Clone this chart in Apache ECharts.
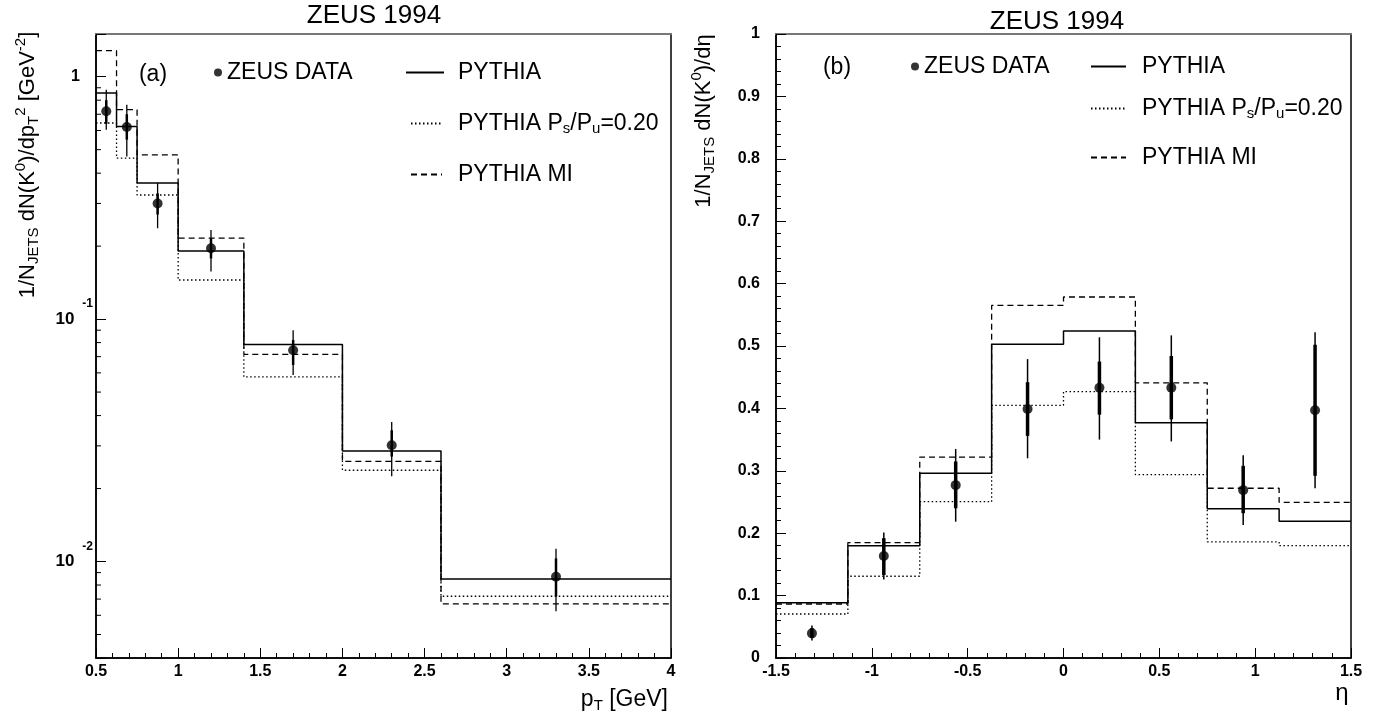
<!DOCTYPE html>
<html>
<head>
<meta charset="utf-8">
<script src="https://cdn.jsdelivr.net/npm/echarts@6/dist/echarts.min.js"></script>
<style>
  html, body { margin: 0; padding: 0; background: #fff; }
  #chart { width: 1382px; height: 719px; }
</style>
</head>
<body>
<div id="chart"></div>
<script>
// (a) pT spectrum, log scale
var ptEdges = [0.5, 0.625, 0.75, 1.0, 1.4, 2.0, 2.6, 4.0];
var ptPythia = [0.856, 0.623, 0.364, 0.191, 0.0786, 0.0286, 0.00848];
var ptPythiaPs = [0.644, 0.461, 0.325, 0.145, 0.0578, 0.0238, 0.00719];
var ptPythiaMI = [1.28, 0.731, 0.476, 0.216, 0.0715, 0.0259, 0.00669];
var ptDataX = [0.5625, 0.6875, 0.875, 1.2, 1.7, 2.3, 3.3];
var ptDataY = [0.72, 0.62, 0.30, 0.196, 0.0744, 0.0302, 0.00866];
var ptErrLo = [0.604, 0.469, 0.237, 0.157, 0.0588, 0.0225, 0.00623];
var ptErrHi = [0.884, 0.766, 0.364, 0.233, 0.090, 0.0376, 0.0113];
var ptStatLo = [0.64, 0.55, 0.27, 0.178, 0.0647, 0.0271, 0.00717];
var ptStatHi = [0.80, 0.70, 0.33, 0.215, 0.082, 0.0348, 0.0103];
var logMinorTicks = [0.005, 0.006, 0.007, 0.008, 0.009,
    0.02, 0.03, 0.04, 0.05, 0.06, 0.07, 0.08, 0.09,
    0.2, 0.3, 0.4, 0.5, 0.6, 0.7, 0.8, 0.9];

// (b) eta distribution
var etaEdges = [-1.5, -1.125, -0.75, -0.375, 0, 0.375, 0.75, 1.125, 1.5];
var etaPythia = [0.0887, 0.18, 0.296, 0.503, 0.524, 0.377, 0.239, 0.219];
var etaPythiaPs = [0.0705, 0.131, 0.2505, 0.405, 0.427, 0.294, 0.186, 0.18];
var etaPythiaMI = [0.0865, 0.185, 0.322, 0.565, 0.5785, 0.441, 0.272, 0.2495];
var etaDataX = [-1.3125, -0.9375, -0.5625, -0.1875, 0.1875, 0.5625, 0.9375, 1.3125];
var etaDataY = [0.0395, 0.1635, 0.277, 0.399, 0.433, 0.433, 0.269, 0.397];
var etaErrLo = [0.028, 0.126, 0.2185, 0.32, 0.350, 0.347, 0.213, 0.272];
var etaErrHi = [0.052, 0.201, 0.335, 0.479, 0.514, 0.517, 0.325, 0.522];
var etaStatLo = [0.032, 0.133, 0.24, 0.356, 0.39, 0.3825, 0.232, 0.292];
var etaStatHi = [0.048, 0.192, 0.315, 0.442, 0.475, 0.484, 0.308, 0.502];

var FONT = 'Liberation Sans, Arial, Helvetica, sans-serif';
var N_DATA = 'ZEUS DATA', N_PY = 'PYTHIA', N_PS = 'PYTHIA Ps/Pu=0.20', N_MI = 'PYTHIA MI';

// histogram -> points for step:'end'
function steps(edges, vals) {
    var pts = [];
    for (var i = 0; i < vals.length; i++) pts.push([edges[i], vals[i]]);
    pts.push([edges[edges.length - 1], vals[vals.length - 1]]);
    return pts;
}
function pairs(xs, ys) {
    return xs.map(function (x, i) { return [x, ys[i]]; });
}
function errRows(xs, lo, hi, slo, shi) {
    return xs.map(function (x, i) { return [x, lo[i], hi[i], slo[i], shi[i]]; });
}

function renderErr(thin, thick) {
    return function (params, api) {
        var x = api.value(0);
        var a = api.coord([x, api.value(1)]);
        var b = api.coord([x, api.value(2)]);
        var c = api.coord([x, api.value(3)]);
        var d = api.coord([x, api.value(4)]);
        return {
            type: 'group',
            children: [
                {type: 'line', shape: {x1: a[0], y1: a[1], x2: b[0], y2: b[1]}, style: {stroke: '#000', lineWidth: thin}},
                {type: 'line', shape: {x1: c[0], y1: c[1], x2: d[0], y2: d[1]}, style: {stroke: '#000', lineWidth: thick}}
            ]
        };
    };
}

function histSeries(name, data, xi, type, width) {
    return {
        name: name, type: 'line', step: 'end', xAxisIndex: xi, yAxisIndex: xi,
        data: data, symbol: 'none', silent: true, z: 3,
        itemStyle: {color: '#000'},
        lineStyle: {color: '#000', width: width, type: type}
    };
}

var tickLabel = {fontFamily: FONT, fontSize: 16, fontWeight: 'bold', color: '#000'};

function valueXAxis(gi, min, max) {
    return {
        type: 'value', gridIndex: gi, min: min, max: max, interval: 0.5,
        axisLine: {onZero: false, lineStyle: {color: '#000', width: 1.5}},
        axisTick: {inside: true, length: 10, lineStyle: {color: '#000', width: 1}},
        minorTick: {show: true, splitNumber: 5, length: 5, lineStyle: {color: '#000', width: 1}},
        splitLine: {show: false},
        axisLabel: Object.assign({margin: 6}, tickLabel)
    };
}
function topAxis(gi) {
    return {
        type: 'value', gridIndex: gi, position: 'top', min: 0, max: 1,
        axisLine: {onZero: false, lineStyle: {color: '#777', width: 2}},
        axisTick: {show: false}, axisLabel: {show: false}, splitLine: {show: false}
    };
}

function legendItem(name, left, top, w, h, pad, isLine) {
    return {
        data: [name], left: left, top: top, padding: 0, orient: 'horizontal',
        itemWidth: w, itemHeight: h, selectedMode: false,
        // line legends: keep the line sample, hide the marker dot
        itemStyle: isLine ? {opacity: 0} : {color: '#000'},
        formatter: function (n) {
            return n === N_PS ? 'PYTHIA P{s|s}/P{s|u}=0.20' : n;
        },
        textStyle: {
            fontFamily: FONT, fontSize: 23, color: '#000', padding: [0, 0, 0, pad],
            rich: {s: {fontFamily: FONT, fontSize: 15, color: '#000', padding: [10, 0, 0, 0]}}
        }
    };
}

var subRich = {
    sub: {fontFamily: FONT, fontSize: 15, fill: '#000', padding: [11, 0, 0, 0]},
    sup: {fontFamily: FONT, fontSize: 15, fill: '#000', padding: [0, 0, 14, 0]}
};

var chart = echarts.init(document.getElementById('chart'));
var option = {
    backgroundColor: '#fff',
    animation: false,
    textStyle: {fontFamily: FONT},
    grid: [
        {left: 96, top: 34, width: 575, height: 624, show: true, borderColor: '#000', borderWidth: 1.5},
        {left: 776, top: 34, width: 575, height: 624, show: true, borderColor: '#000', borderWidth: 1.5}
    ],
    xAxis: [
        valueXAxis(0, 0.5, 4),
        valueXAxis(1, -1.5, 1.5),
        topAxis(0),
        topAxis(1)
    ],
    yAxis: [
        {
            type: 'log', gridIndex: 0, min: 0.004, max: 1.5, logBase: 10,
            axisLine: {onZero: false, lineStyle: {color: '#000', width: 1.5}},
            axisTick: {inside: true, length: 10, lineStyle: {color: '#000', width: 1}},
            splitLine: {show: false},
            axisLabel: {
                margin: 3, fontSize: 16, fontWeight: 'bold', fontFamily: FONT, color: '#000',
                formatter: function (v) {
                    var e = Math.log(v) / Math.LN10;
                    var r = Math.round(e);
                    if (Math.abs(e - r) > 1e-6) return '';
                    if (r === 0) return '{one|1}';
                    return '{b|10}{sup|' + r + '}';
                },
                rich: {
                    one: {fontFamily: FONT, fontSize: 16, fontWeight: 'bold', color: '#000', padding: [0, 13, 0, 0]},
                    b: {fontFamily: FONT, fontSize: 17, fontWeight: 'bold', color: '#000'},
                    sup: {fontFamily: FONT, fontSize: 12, fontWeight: 'bold', color: '#000', padding: [0, 0, 30, 8]}
                }
            }
        },
        {
            type: 'value', gridIndex: 1, min: 0, max: 1, interval: 0.1,
            axisLine: {onZero: false, lineStyle: {color: '#000', width: 1.5}},
            axisTick: {inside: true, length: 10, lineStyle: {color: '#000', width: 1}},
            minorTick: {show: true, splitNumber: 5, length: 5, lineStyle: {color: '#000', width: 1}},
            splitLine: {show: false},
            axisLabel: Object.assign({margin: 16}, tickLabel)
        }
    ],
    legend: [
        legendItem(N_DATA, 214, 61, 8, 8, 0, false),
        legendItem(N_PY, 405, 61, 38, 10, 9, true),
        legendItem(N_PS, 410, 112, 31, 10, 11, true),
        legendItem(N_MI, 410, 163, 31, 10, 11, true),
        legendItem(N_DATA, 911, 55, 8, 8, 0, false),
        legendItem(N_PY, 1090, 55, 35, 10, 11, true),
        legendItem(N_PS, 1090, 97, 35, 10, 11, true),
        legendItem(N_MI, 1090, 146, 35, 10, 11, true)
    ],
    graphic: [
        {type: 'text', x: 374, y: 16, style: {text: 'ZEUS 1994', fontFamily: FONT, fontSize: 26, fill: '#000', align: 'center', verticalAlign: 'middle'}},
        {type: 'text', x: 1057, y: 22, style: {text: 'ZEUS 1994', fontFamily: FONT, fontSize: 26, fill: '#000', align: 'center', verticalAlign: 'middle'}},
        {type: 'text', x: 153, y: 75, style: {text: '(a)', fontFamily: FONT, fontSize: 23, fill: '#000', align: 'center', verticalAlign: 'middle'}},
        {type: 'text', x: 837, y: 68, style: {text: '(b)', fontFamily: FONT, fontSize: 23, fill: '#000', align: 'center', verticalAlign: 'middle'}},
        {type: 'text', x: 668, y: 700, style: {text: 'p{sub|T} [GeV]', rich: subRich, fontFamily: FONT, fontSize: 23, fill: '#000', align: 'right', verticalAlign: 'middle'}},
        {type: 'text', x: 1342, y: 693, style: {text: 'η', fontFamily: FONT, fontSize: 24, fill: '#000', align: 'center', verticalAlign: 'middle'}},
        {type: 'text', x: 28, y: 165, rotation: Math.PI / 2,
            style: {text: '1/N{sub|JETS} dN(K{sup|0})/dp{sub|T}{sup|2} [GeV{sup|-2}]', rich: subRich, fontFamily: FONT, fontSize: 22, fill: '#000', align: 'center', verticalAlign: 'middle'}},
        {type: 'text', x: 704, y: 121, rotation: Math.PI / 2,
            style: {text: '1/N{sub|JETS} dN(K{sup|0})/dη', rich: subRich, fontFamily: FONT, fontSize: 22, fill: '#000', align: 'center', verticalAlign: 'middle'}}
    ],
    series: [
        histSeries(N_PY, steps(ptEdges, ptPythia), 0, 'solid', 1.5),
        histSeries(N_PS, steps(ptEdges, ptPythiaPs), 0, [1.5, 2.5], 1.3),
        histSeries(N_MI, steps(ptEdges, ptPythiaMI), 0, [6, 4], 1.3),
        {
            name: 'minor', type: 'custom', xAxisIndex: 0, yAxisIndex: 0, silent: true,
            data: logMinorTicks.map(function (v) { return [0.5, v]; }),
            encode: {x: 0, y: 1},
            renderItem: function (params, api) {
                var p = api.coord([api.value(0), api.value(1)]);
                return {type: 'line', shape: {x1: p[0], y1: p[1], x2: p[0] + 5, y2: p[1]}, style: {stroke: '#000', lineWidth: 1}};
            }
        },
        {
            name: 'err', type: 'custom', xAxisIndex: 0, yAxisIndex: 0, silent: true, z: 4,
            data: errRows(ptDataX, ptErrLo, ptErrHi, ptStatLo, ptStatHi),
            encode: {x: 0, y: [1, 2, 3, 4]},
            renderItem: renderErr(1.3, 2.5)
        },
        {
            name: N_DATA, type: 'scatter', xAxisIndex: 0, yAxisIndex: 0, z: 5,
            symbol: 'circle', symbolSize: 10, itemStyle: {color: '#000'},
            data: pairs(ptDataX, ptDataY)
        },
        histSeries(N_PY, steps(etaEdges, etaPythia), 1, 'solid', 1.5),
        histSeries(N_PS, steps(etaEdges, etaPythiaPs), 1, [1.5, 2.5], 1.3),
        histSeries(N_MI, steps(etaEdges, etaPythiaMI), 1, [6, 4], 1.3),
        {
            name: 'err', type: 'custom', xAxisIndex: 1, yAxisIndex: 1, silent: true, z: 4,
            data: errRows(etaDataX, etaErrLo, etaErrHi, etaStatLo, etaStatHi),
            encode: {x: 0, y: [1, 2, 3, 4]},
            renderItem: renderErr(1.5, 3.5)
        },
        {
            name: N_DATA, type: 'scatter', xAxisIndex: 1, yAxisIndex: 1, z: 5,
            symbol: 'circle', symbolSize: 10, itemStyle: {color: '#000'},
            data: pairs(etaDataX, etaDataY)
        }
    ]
};
chart.setOption(option);
</script>
</body>
</html>
